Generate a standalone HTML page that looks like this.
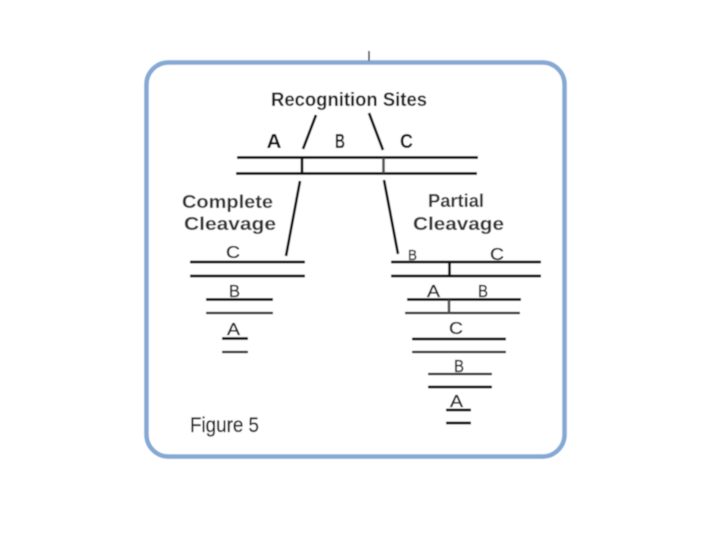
<!DOCTYPE html>
<html>
<head>
<meta charset="utf-8">
<style>
html,body{margin:0;padding:0;background:#fff;width:720px;height:540px;overflow:hidden}
svg{display:block}
text{font-family:"Liberation Sans",sans-serif;fill:#1c1c1c}
.h{font-weight:bold;font-size:19px}
.c{font-weight:bold;font-size:18px;fill:#333}
.b{font-weight:bold;font-size:20px;fill:#111}
.s{font-size:17.500px;stroke:#1c1c1c;stroke-width:.35}
line{stroke:#111;stroke-width:2.700}
</style>
</head>
<body>
<svg width="720" height="540" viewBox="0 0 720 540" xmlns="http://www.w3.org/2000/svg">
<defs><filter id="f" x="-5%" y="-5%" width="110%" height="110%"><feGaussianBlur stdDeviation="0.4"/></filter></defs>
<g filter="url(#f)">
<rect x="146.500" y="62.500" width="418" height="394" rx="22" ry="22" fill="#fff" stroke="#85a8d4" stroke-width="4.500"/>
<line x1="369" y1="51" x2="369" y2="61" style="stroke:#444;stroke-width:1.300"/>

<text class="h" x="271" y="106" textLength="156" lengthAdjust="spacingAndGlyphs">Recognition Sites</text>
<text class="b" x="266.500" y="148" textLength="15" lengthAdjust="spacingAndGlyphs">A</text>
<text class="b" x="335" y="148" textLength="10" lengthAdjust="spacingAndGlyphs">B</text>
<text class="b" x="400" y="148" textLength="13" lengthAdjust="spacingAndGlyphs">C</text>

<line x1="316" y1="115" x2="303" y2="149"/>
<line x1="369" y1="113" x2="383" y2="150"/>
<line x1="237" y1="157.500" x2="478" y2="157.500"/>
<line x1="236" y1="173.500" x2="477" y2="173.500"/>
<line x1="302" y1="158" x2="302" y2="173"/>
<line x1="383.500" y1="158" x2="383.500" y2="173" style="stroke:#555"/>
<line x1="300" y1="181" x2="286" y2="256"/>
<line x1="384" y1="180" x2="398" y2="254"/>

<text class="c" x="182" y="208" textLength="91" lengthAdjust="spacingAndGlyphs">Complete</text>
<text class="c" x="184" y="230" textLength="92" lengthAdjust="spacingAndGlyphs">Cleavage</text>
<text class="c" x="428" y="207" textLength="56" lengthAdjust="spacingAndGlyphs">Partial</text>
<text class="c" x="413" y="230" textLength="91" lengthAdjust="spacingAndGlyphs">Cleavage</text>

<text class="s" x="226" y="258" textLength="14" lengthAdjust="spacingAndGlyphs">C</text>
<line x1="190" y1="262" x2="305" y2="262"/>
<line x1="190" y1="276" x2="305" y2="276"/>
<text class="s" x="229" y="297" textLength="11" lengthAdjust="spacingAndGlyphs">B</text>
<line x1="206" y1="299.500" x2="273" y2="299.500"/>
<line x1="206" y1="313" x2="273" y2="313" style="stroke-width:2.200"/>
<text class="s" x="227" y="335" textLength="13" lengthAdjust="spacingAndGlyphs">A</text>
<line x1="222" y1="338.500" x2="248" y2="338.500"/>
<line x1="222" y1="352" x2="248" y2="352" style="stroke-width:2.200"/>

<text class="s" x="408" y="260" textLength="9" lengthAdjust="spacingAndGlyphs" style="font-size:15px">B</text>
<text class="s" x="490" y="260" textLength="14" lengthAdjust="spacingAndGlyphs">C</text>
<line x1="391" y1="262" x2="541" y2="262"/>
<line x1="391" y1="276" x2="541" y2="276"/>
<line x1="449.500" y1="262" x2="449.500" y2="276"/>

<text class="s" x="427" y="297" textLength="13" lengthAdjust="spacingAndGlyphs">A</text>
<text class="s" x="478" y="297" textLength="10" lengthAdjust="spacingAndGlyphs">B</text>
<line x1="407" y1="299.500" x2="521" y2="299.500"/>
<line x1="405" y1="313" x2="520" y2="313" style="stroke-width:2.200"/>
<line x1="449" y1="300" x2="449" y2="313" style="stroke:#555"/>

<text class="s" x="449" y="334" textLength="14" lengthAdjust="spacingAndGlyphs">C</text>
<line x1="412" y1="339" x2="506" y2="339"/>
<line x1="412" y1="352" x2="506" y2="352" style="stroke-width:2.200"/>

<text class="s" x="454" y="372" textLength="10" lengthAdjust="spacingAndGlyphs">B</text>
<line x1="428" y1="374" x2="492" y2="374" style="stroke-width:2.200"/>
<line x1="428" y1="387" x2="492" y2="387"/>

<text class="s" x="450" y="407" textLength="13" lengthAdjust="spacingAndGlyphs">A</text>
<line x1="446" y1="410" x2="471" y2="410"/>
<line x1="446" y1="423" x2="471" y2="423"/>

<text x="190" y="432" textLength="69" lengthAdjust="spacingAndGlyphs" style="font-size:21px;stroke:#1c1c1c;stroke-width:.3">Figure 5</text>
</g>
</svg>
</body>
</html>
